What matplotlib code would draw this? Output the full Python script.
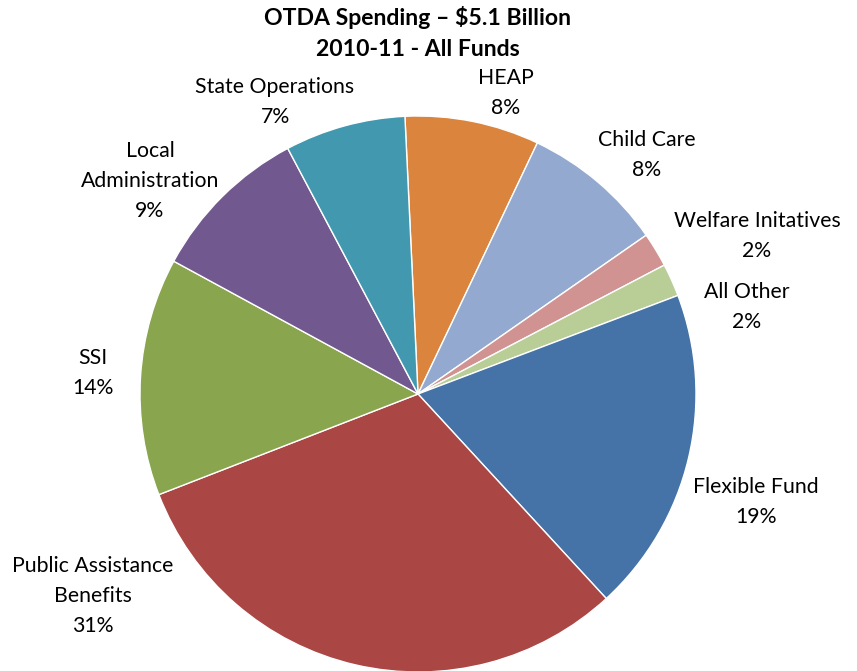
import matplotlib
matplotlib.use("Agg")
import matplotlib.pyplot as plt

# ---- data ----
categories = ["HEAP", "Child Care", "Welfare Initatives", "All Other", "Flexible Fund",
              "Public Assistance\nBenefits", "SSI", "Local\nAdministration", "State Operations"]
values = [7.8, 8.25, 2.0, 1.9, 18.9, 30.9, 13.8, 9.3, 7.0]
pct_labels = ["8%", "8%", "2%", "2%", "19%", "31%", "14%", "9%", "7%"]
colors = ["#DB843D", "#93A9CF", "#D19392", "#B9CD96", "#4572A7",
          "#AA4643", "#89A54E", "#71588F", "#4198AF"]

title = "OTDA Spending \u2013 $5.1 Billion\n2010-11 - All Funds"

# label centers in pixels (layout)
label_pos = [(506, 93), (647, 155), (757, 236), (747, 307), (756, 502),
             (93, 596), (93, 373), (150, 181), (275, 102)]

W, H = 857, 671
fig = plt.figure(figsize=(W / 100, H / 100), dpi=100)
plt.rcParams['font.family'] = ['Lato', 'DejaVu Sans']

cx, cy, r = 418, 394, 278
ax = fig.add_axes([(cx - r) / W, (H - cy - r) / H, 2 * r / W, 2 * r / H])
ax.pie(values, colors=colors, startangle=92.7, counterclock=False, radius=1,
       wedgeprops=dict(edgecolor="white", linewidth=1))
ax.set_xlim(-1, 1)
ax.set_ylim(-1, 1)
ax.set_aspect("auto")
ax.axis("off")

for cat, pct, (px, py) in zip(categories, pct_labels, label_pos):
    fig.text(px / W, 1 - py / H, cat + "\n" + pct, ha="center", va="center",
             fontsize=15.3, linespacing=1.65, color="#000000")

fig.text(418 / W, 1 - 33 / H, title, ha="center", va="center", fontsize=16.6,
         fontweight="bold", linespacing=1.55)

fig.savefig("out.png", dpi=100)
